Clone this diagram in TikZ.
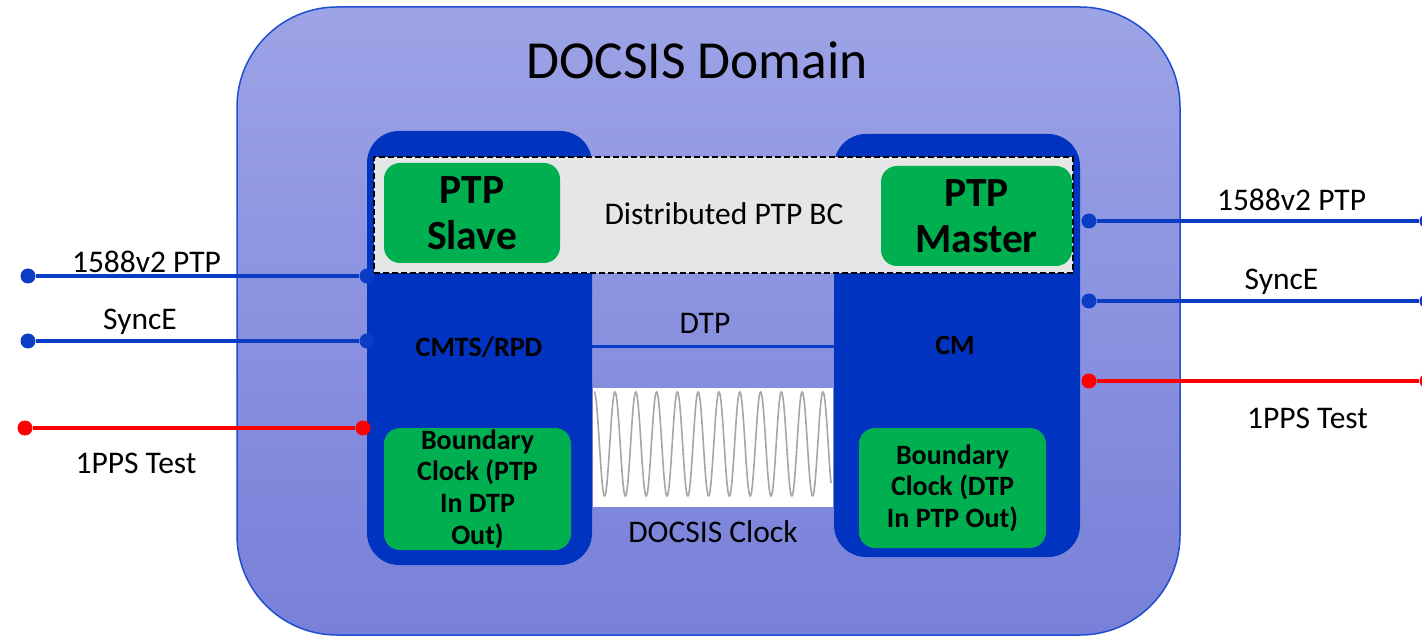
\documentclass[tikz,border=0pt]{standalone}
\usepackage{fontspec}
\setmainfont{Carlito}
\definecolor{dblue}{HTML}{0033BF}
\definecolor{lblue}{HTML}{0B3DC4}
\definecolor{dgreen}{HTML}{00B050}
\definecolor{domtop}{HTML}{9CA3E6}
\definecolor{dombot}{HTML}{7880D9}
\definecolor{domedge}{HTML}{1F4FD0}
\definecolor{bcgray}{HTML}{E6E6E6}
\definecolor{pred}{HTML}{FF0000}
\begin{document}
\begin{tikzpicture}[x=1pt,y=-1pt,
  domainbox/.style={rectangle, rounded corners=100pt, top color=domtop, bottom color=dombot, draw=domedge, line width=1.5pt, inner sep=0pt},
  column/.style={rectangle, rounded corners=32pt, fill=dblue, inner sep=0pt},
  greenbox/.style={rectangle, rounded corners=16pt, fill=dgreen, inner sep=0pt, align=center},
  bigbold/.style={font=\bfseries\fontsize{41.5}{46}\selectfont},
  midbold/.style={font=\bfseries\fontsize{28}{31.6}\selectfont},
  lbl/.style={font=\fontsize{31.5}{37}\selectfont, inner sep=0pt},
  bdot/.style={circle, fill=lblue, inner sep=0pt, minimum size=15pt},
  rdot/.style={circle, fill=pred, inner sep=0pt, minimum size=15pt},
  bline/.style={draw=lblue, line width=3.5pt},
  rline/.style={draw=pred, line width=3.5pt}
]
\useasboundingbox (0,0) rectangle (1422,636);
\clip (0,0) rectangle (1422,636);

% domain
\node[domainbox, minimum width=943pt, minimum height=628pt] (dom) at (708.5,321) {};
\node[font=\fontsize{53.5}{60}\selectfont, inner sep=0pt] (domtitle) at (697,60) {DOCSIS Domain};

% columns
\node[column, minimum width=225pt, minimum height=434pt] (lcol) at (479.5,348) {};
\node[column, minimum width=246pt, minimum height=423pt] (rcol) at (957,345.5) {};

% clock band
\node[rectangle, fill=white, inner sep=0pt, minimum width=240pt, minimum height=119pt] (band) at (713,447.5) {};
\draw[gray!70, line width=1.6pt] plot[domain=594:831, samples=500, smooth] (\x, {444 - 52*cos(17.3077*(\x-594.2))});
\node[lbl] (clocklbl) at (713,532) {DOCSIS Clock};

% DTP
\draw[bline, line width=3pt] (lcol.east |- 0,347) -- (rcol.west |- 0,347);
\node[lbl] (dtplbl) at (705,323) {DTP};

% distributed BC
\node[rectangle, fill=bcgray, draw=black, dashed, dash pattern=on 6pt off 3pt, line width=2.5pt, minimum width=699pt, minimum height=116pt, inner sep=0pt] (dbc) at (723.5,215) {};
\node[lbl] (dbclbl) at (724,214) {Distributed PTP BC};
\node[greenbox, bigbold, minimum width=176pt, minimum height=100pt] (slave) at (472,213) {PTP\\Slave};
\node[greenbox, bigbold, minimum width=191pt, minimum height=100pt] (master) at (976.5,216) {PTP\\Master};

% column labels
\node[midbold, inner sep=0pt] (cmts) at (479,347) {CMTS/RPD};
\node[midbold, inner sep=0pt] (cm) at (955,345) {CM};

% boundary clocks
\node[greenbox, midbold, minimum width=187pt, minimum height=122pt] (lbc) at (477.5,489) {Boundary\\Clock (PTP\\In DTP\\Out)};
\node[greenbox, midbold, minimum width=187pt, minimum height=120pt] (rbc) at (952.5,488) {Boundary\\Clock (DTP\\In PTP Out)};

% left connectors
\node[bdot] (l1a) at (28,276) {};
\node[bdot] (l1b) at (367,276) {};
\draw[bline] (l1a) -- (l1b);
\node[lbl] (l1t) at (146.5,262) {1588v2 PTP};
\node[bdot] (l2a) at (28,341) {};
\node[bdot] (l2b) at (367,341) {};
\draw[bline] (l2a) -- (l2b);
\node[lbl] (l2t) at (140,322) {SyncE};
\node[rdot] (l3a) at (25,428) {};
\node[rdot] (l3b) at (363,428) {};
\draw[rline] (l3a) -- (l3b);
\node[lbl] (l3t) at (136,463) {1PPS Test};

% right connectors
\node[bdot] (r1a) at (1089,221) {};
\node[bdot] (r1b) at (1427,221) {};
\draw[bline] (r1a) -- (r1b);
\node[lbl] (r1t) at (1291.5,200) {1588v2 PTP};
\node[bdot] (r2a) at (1089,301) {};
\node[bdot] (r2b) at (1427,301) {};
\draw[bline] (r2a) -- (r2b);
\node[lbl] (r2t) at (1281.5,282) {SyncE};
\node[rdot] (r3a) at (1089,381) {};
\node[rdot] (r3b) at (1427,381) {};
\draw[rline] (r3a) -- (r3b);
\node[lbl] (r3t) at (1307.5,418) {1PPS Test};
\end{tikzpicture}
\end{document}
